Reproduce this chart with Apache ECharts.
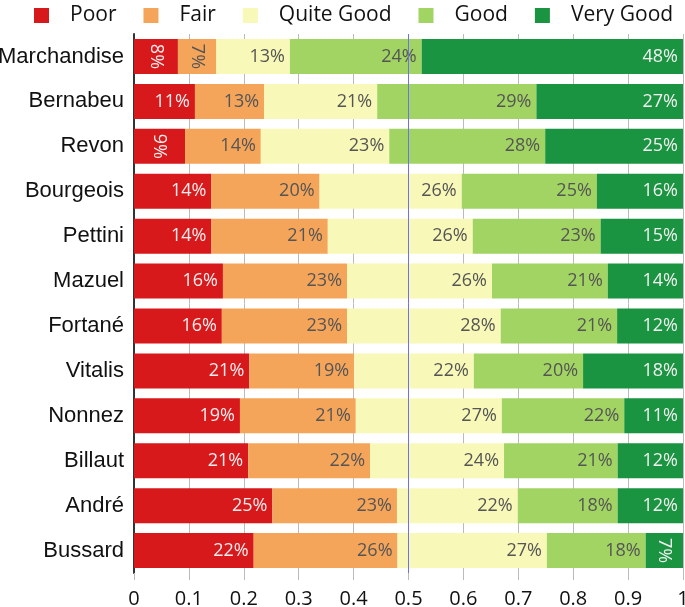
<!DOCTYPE html>
<html>
<head>
<meta charset="utf-8">
<script src="https://cdn.jsdelivr.net/npm/echarts@6/dist/echarts.min.js"></script>
<style>html,body{margin:0;padding:0;background:#fff;overflow:hidden}#c{width:685px;height:607px}</style>
</head>
<body>
<div id="c"></div>
<script>
var categories = ['Marchandise','Bernabeu','Revon','Bourgeois','Pettini','Mazuel','Fortané','Vitalis','Nonnez','Billaut','André','Bussard'];
var seriesNames = ['Poor','Fair','Quite Good','Good','Very Good'];
var poor      = [0.080,0.111,0.093,0.141,0.141,0.162,0.160,0.210,0.193,0.208,0.252,0.218];
var fair      = [0.070,0.126,0.138,0.197,0.212,0.226,0.228,0.191,0.211,0.222,0.227,0.262];
var quiteGood = [0.134,0.206,0.234,0.259,0.264,0.264,0.280,0.218,0.266,0.244,0.220,0.272];
var good      = [0.240,0.290,0.284,0.246,0.233,0.211,0.212,0.199,0.223,0.207,0.182,0.180];
var veryGood  = [0.476,0.267,0.251,0.157,0.150,0.137,0.120,0.182,0.107,0.119,0.119,0.068];
var xTicks = [0,0.1,0.2,0.3,0.4,0.5,0.6,0.7,0.8,0.9,1];
var refLine = 0.5;

var colors = ['#d7191c','#f5a55a','#f8f8b8','#a2d464','#1a9440'];
var labelColors = ['#f6eeee','#555555','#555555','#555555','#f0f0f0'];
var values = [poor, fair, quiteGood, good, veryGood];

var chart = echarts.init(document.getElementById('c'), null, {renderer:'canvas'});
var series = values.map(function(arr, si){
  return {
    name: seriesNames[si],
    type: 'bar',
    stack: 'total',
    barWidth: 35,
    itemStyle: {color: colors[si]},
    data: arr.map(function(v){
      var small = v < 0.1;
      return {
        value: v,
        label: small ? {position:'inside', rotate:-90} : {position:'insideRight', distance:5}
      };
    }),
    label: {
      show: true,
      formatter: function(p){ return Math.round(p.value*100) + '%'; },
      color: labelColors[si],
      fontFamily: 'Open Sans',
      fontSize: 18
    },
    markLine: si === 0 ? {
      silent: true,
      symbol: ['none','none'],
      label: {show:false},
      lineStyle: {color:'#6f6ff2', type:'solid', width:1},
      data: [{xAxis: refLine}]
    } : undefined
  };
});

chart.setOption({
  animation: false,
  legend: {
    left: 29, top: 0,
    itemWidth: 15, itemHeight: 15, itemGap: 27,
    icon: 'rect',
    data: seriesNames,
    textStyle: {fontFamily:'Open Sans', fontSize:21, color:'#111', padding:[0,0,0,16]}
  },
  grid: {left: 134, right: 2, top: 34, bottom: 34, containLabel: false, outerBoundsMode: 'none'},
  xAxis: {
    type: 'value', min: 0, max: 1, interval: 0.1,
    axisLine: {show:false},
    axisTick: {show:true, length:7, lineStyle:{color:'#bbbbbb'}},
    splitLine: {show:true, lineStyle:{color:'#bbbbbb', width:1}},
    axisLabel: {
      fontFamily:'Open Sans', fontSize:20, color:'#111', margin:16,
      formatter: function(v){ var r = Math.round(v*10)/10; return xTicks.indexOf(r) >= 0 ? String(r) : ''; }
    }
  },
  yAxis: {
    type: 'category', data: categories, inverse: true,
    axisLine: {show:true, lineStyle:{color:'#333', width:2}},
    axisTick: {show:false},
    axisLabel: {fontFamily:'Liberation Sans', fontSize:22, color:'#111', margin:10}
  },
  series: series
});
</script>
</body>
</html>
